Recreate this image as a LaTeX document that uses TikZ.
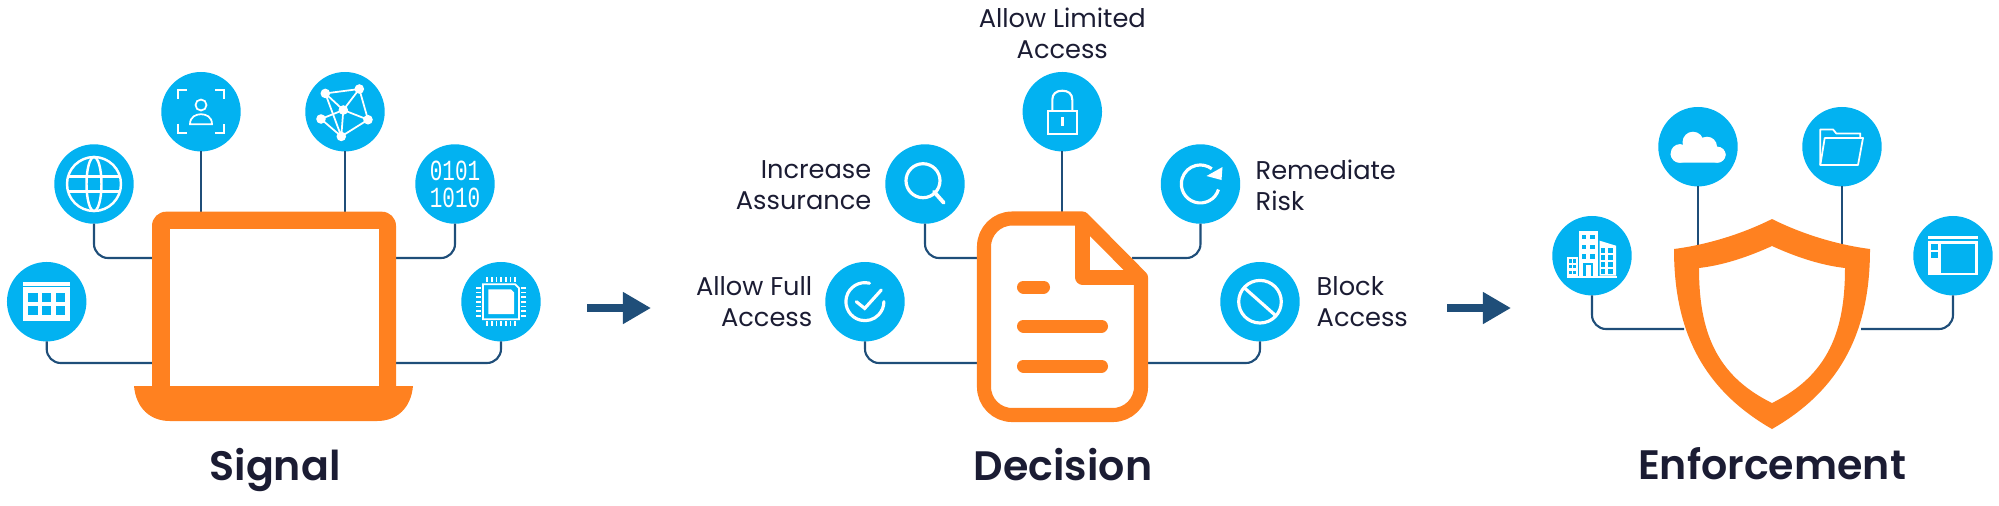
\documentclass[tikz,border=0pt]{standalone}
\usepackage{fontspec}
\setmainfont{Poppins}[BoldFont={Poppins SemiBold}]
\newfontfamily\digitfont{Liberation Mono}
\usetikzlibrary{arrows.meta}

\definecolor{badgeblue}{HTML}{02B2F1}
\definecolor{huborange}{HTML}{FF8120}
\definecolor{linknavy}{HTML}{1F4E79}
\definecolor{textdark}{HTML}{1B1C33}

\tikzset{
  badge/.style={circle, fill=badgeblue, minimum size=0.794cm, inner sep=0pt, outer sep=0pt},
  link/.style={draw=linknavy, line width=0.6pt, rounded corners=4pt},
  flow/.style={draw=linknavy, line width=2pt, -{Triangle[length=8pt, width=8.6pt]}},
  caption/.style={font=\fontsize{11.7}{14}\selectfont\bfseries, text=textdark, inner sep=0pt, anchor=base},
  choice/.style={font=\fontsize{7.3}{8.82}\selectfont, text=textdark, inner sep=0pt},
  digits/.style={text=white, font=\fontsize{8.3}{9}\selectfont\digitfont, xscale=0.72, inner sep=0pt},
  icon/.style={draw=white, line width=0.5pt},
  iconthick/.style={draw=white, line width=0.9pt, line cap=round},
  solidwhite/.style={fill=white},
  solidblue/.style={fill=badgeblue},
}

\begin{document}
\begin{tikzpicture}[x=0.01cm, y=-0.01cm]

\useasboundingbox (0,0) rectangle (1999,505);

% Signal badges
\node[badge] (table) at (46.7,301.7) {};
\node[badge] (globe) at (94,184) {};
\node[badge] (face) at (201,111.7) {};
\node[badge] (network) at (345,111.7) {};
\node[badge] (binary) at (455,184) {};
\node[badge] (chip) at (501,301.7) {};

% Where the lines meet the laptop
\coordinate (laptopA) at (152,363);
\coordinate (laptopB) at (152,258);
\coordinate (laptopC) at (201,213);
\coordinate (laptopD) at (345,213);
\coordinate (laptopE) at (396,258);
\coordinate (laptopF) at (396,363);

\draw[link] (table.south) |- (laptopA);
\draw[link] (globe.south) |- (laptopB);
\draw[link] (face.south) -- (laptopC);
\draw[link] (network.south) -- (laptopD);
\draw[link] (binary.south) |- (laptopE);
\draw[link] (chip.south) |- (laptopF);

% Draw the laptop
\fill[huborange, rounded corners=4pt] (152,400) -- (152,211.7) -- (396,211.7) -- (396,400) -- cycle;
\fill[white] (169.6,229.3) rectangle (378.6,386);
\fill[huborange] (134,386) -- (413,386) .. controls (411,408) and (397,421) .. (377,421) -- (170,421) .. controls (150,421) and (136,408) .. (134,386) -- cycle;
\node[caption] (signal) at (275,480) {Signal};

% Table icon
\begin{scope}[shift={(table.center)}]
\fill[solidwhite] (-23.3,-19.7) rectangle (23.7,-15.7);
\fill[solidwhite] (-23.3,-14.3) rectangle (23.7,19.3);
\foreach \cx in {-13.7,0,13.8} {
  \foreach \cy in {-4.4,8.7} {
    \fill[solidblue] (\cx-4.7,\cy-4.7) rectangle (\cx+4.7,\cy+4.7);
  }
}
\end{scope}

% Globe icon
\begin{scope}[shift={(globe.center)}]
\draw[icon, line width=0.7pt] (0,0) circle[radius=27];
\draw[icon, line width=0.7pt] (0,0) ellipse[x radius=7.5, y radius=27];
\draw[icon, line width=0.7pt] (-25,-7.3) -- (25,-7.3);
\draw[icon, line width=0.7pt] (-25,7.3) -- (25,7.3);
\end{scope}

% Face scan icon
\begin{scope}[shift={(face.center)}]
\draw[icon] (-23,-13) -- (-23,-22) -- (-14,-22);
\draw[icon] (14,-22) -- (23,-22) -- (23,-13);
\draw[icon] (-23,12) -- (-23,21) -- (-14,21);
\draw[icon] (14,21) -- (23,21) -- (23,12);
\draw[icon] (0,-6.7) circle[radius=5.5];
\draw[icon] (-11,12.5) .. controls (-11,5) and (-5,2.5) .. (0,2.5) .. controls (5,2.5) and (11,5) .. (11,12.5) -- cycle;
\end{scope}

% Network icon
\begin{scope}[shift={(network.center)}]
\coordinate (na) at (-19.7,-18.3);
\coordinate (nb) at (14.3,-22.7);
\coordinate (nc) at (-1.7,-1.7);
\coordinate (nd) at (-24,7.3);
\coordinate (ne) at (23,8);
\coordinate (nf) at (-3.7,24.7);
\draw[icon] (na) -- (nb) -- (ne) -- (nf) -- (nd) -- (nc) -- (ne);
\draw[icon] (nb) -- (nc) -- (na) -- (nf) -- (nc);
\foreach \n in {na,nb,nc,nd,ne,nf} {
  \fill[solidwhite] (\n) circle[radius=4.8];
}
\end{scope}

% Binary icon
\node[digits] (zeroone) at (455,170.5) {0101};
\node[digits] (onezero) at (455,197.5) {1010};

% Chip icon
\begin{scope}[shift={(chip.center)}]
\draw[icon] (-18,-17.5) -- (14,-17.5) -- (18,-13.5) -- (18,17.5) -- (-18,17.5) -- cycle;
\fill[solidwhite] (-12.7,-12.3) -- (10,-12.3) -- (13,-9.3) -- (13,12.3) -- (-12.7,12.3) -- cycle;
\foreach \p in {-14,-9.3,...,14.5} {
  \draw[icon] (\p,-24.5) -- (\p,-19.5);
  \draw[icon] (\p,24.5) -- (\p,19.5);
  \draw[icon] (-25,\p) -- (-20,\p);
  \draw[icon] (25,\p) -- (20,\p);
}
\end{scope}

\draw[flow] (587,308) coordinate (flowAstart) -- (651,308) coordinate (flowAend);

% Decision badges
\node[badge] (allowfull) at (865,301.7) {};
\node[badge] (increase) at (925,184) {};
\node[badge] (limited) at (1062.3,111.7) {};
\node[badge] (remediate) at (1200.5,184) {};
\node[badge] (blocked) at (1260,301.7) {};

% Where the lines meet the document
\coordinate (docA) at (977,363);
\coordinate (docB) at (977,258);
\coordinate (docC) at (1062.3,213);
\coordinate (docD) at (1132,258);
\coordinate (docE) at (1148,363);

\draw[link] (allowfull.south) |- (docA);
\draw[link] (increase.south) |- (docB);
\draw[link] (limited.south) -- (docC);
\draw[link] (remediate.south) |- (docD);
\draw[link] (blocked.south) |- (docE);

% Draw the document
\draw[huborange, line width=4pt, line join=round, fill=white] (1082.5,218.5) [rounded corners=8pt] -- (984,218.5) -- (984,415) -- (1141,415) [sharp corners] -- (1141,277.5) -- cycle;
\draw[huborange, line width=4pt, line join=round] (1082.5,218.5) -- (1082.5,277.5) -- (1141,277.5);
\draw[huborange, line width=3.7pt, line cap=round] (1023.5,287) -- (1043.5,287);
\draw[huborange, line width=3.7pt, line cap=round] (1023.5,326) -- (1101.5,326);
\draw[huborange, line width=3.7pt, line cap=round] (1023.5,366) -- (1101.5,366);
\node[caption] (decision) at (1063,480) {Decision};

% Labels of the choices
\node[choice, align=center] (limitedtext) at (1062.3,33) {Allow Limited\\Access};
\node[choice, align=right, anchor=east] (increasetext) at (872,185) {Increase\\Assurance};
\node[choice, align=left, anchor=west] (remediatetext) at (1255,185) {Remediate\\Risk};
\node[choice, align=right, anchor=east] (allowfulltext) at (813,302) {Allow Full\\Access};
\node[choice, align=left, anchor=west] (blockedtext) at (1316,302) {Block\\Access};

% Check icon
\begin{scope}[shift={(allowfull.center)}]
\draw[iconthick] (4.5,-18.5) arc[start angle=-76, delta angle=-284, radius=19];
\draw[iconthick] (-8.7,0) -- (-0.3,6.7) -- (16.3,-11.7);
\end{scope}

% Search icon
\begin{scope}[shift={(increase.center)}]
\draw[iconthick] (-2,-3.3) circle[radius=17];
\draw[iconthick, line width=1.1pt] (9,7.7) -- (18.7,18.7);
\end{scope}

% Lock icon
\begin{scope}[shift={(limited.center)}]
\draw[icon, line width=0.6pt] (-14.5,-1) rectangle (14.5,22.3);
\draw[icon, line width=0.6pt] (-10,-1) -- (-10,-12) .. controls (-10,-18) and (-6,-21) .. (0,-21) .. controls (6,-21) and (10,-18) .. (10,-12) -- (10,-1);
\draw[icon, line width=0.7pt] (0,5.7) -- (0,14.3);
\end{scope}

% Refresh icon
\begin{scope}[shift={(remediate.center)}]
\draw[iconthick, line cap=butt] (18,5.5) arc[start angle=17, delta angle=290, radius=19];
\fill[solidwhite] (6,-8) -- (22,-17) -- (21,-4) -- cycle;
\end{scope}

% Block icon
\begin{scope}[shift={(blocked.center)}]
\draw[iconthick] (0,0) circle[radius=21.3];
\draw[iconthick, line cap=butt] (-15,-13.3) -- (15,13.3);
\end{scope}

\draw[flow] (1447,308) coordinate (flowBstart) -- (1511,308) coordinate (flowBend);

% Enforcement badges
\node[badge] (building) at (1592,255.7) {};
\node[badge] (cloud) at (1698,146.7) {};
\node[badge] (folder) at (1842,146.7) {};
\node[badge] (window) at (1953,255.7) {};

% Where the lines meet the shield
\coordinate (shieldA) at (1684,329);
\coordinate (shieldB) at (1698,246);
\coordinate (shieldC) at (1842,246);
\coordinate (shieldD) at (1861,329);

\draw[link] (building.south) |- (shieldA);
\draw[link] (cloud.south) -- (shieldB);
\draw[link] (folder.south) -- (shieldC);
\draw[link] (window.south) |- (shieldD);

% Draw the shield
\fill[huborange, even odd rule]
  (1772,219) .. controls (1740,235) and (1705,245) .. (1674,249)
  .. controls (1674,320) and (1695,385) .. (1772,429)
  .. controls (1849,385) and (1870,320) .. (1870,249)
  .. controls (1839,245) and (1804,235) .. (1772,219) -- cycle
  (1772,246) .. controls (1750,256) and (1725,265) .. (1699,268)
  .. controls (1699,330) and (1715,375) .. (1772,403)
  .. controls (1829,375) and (1845,330) .. (1845,268)
  .. controls (1819,265) and (1794,256) .. (1772,246) -- cycle;
\node[caption] (enforcement) at (1772,479) {Enforcement};

% Building icon
\begin{scope}[shift={(building.center)}]
\fill[solidwhite] (-25,20) rectangle (25,22);
\fill[solidwhite] (-13.3,-24.3) rectangle (6,20);
\fill[solidwhite] (7.7,-15) -- (24,-10) -- (24,20) -- (7.7,20) -- cycle;
\fill[solidwhite] (-25,1.7) rectangle (-14.3,20);
\foreach \wy in {-20.7,-11,-1.3} {
  \fill[solidblue] (-10,\wy) rectangle (-6,\wy+4.4);
  \fill[solidblue] (-1.7,\wy) rectangle (2.7,\wy+4.4);
}
\fill[solidblue] (-8.7,7) rectangle (0.7,20);
\fill[solidwhite] (-6.5,9.5) rectangle (-1.5,20);
\foreach \wy in {-7.3,-0.7,6,13.3} {
  \fill[solidblue] (9.3,\wy) rectangle (13.3,\wy+5);
  \fill[solidblue] (16,\wy) rectangle (20.7,\wy+5);
}
\foreach \wy in {3.7,9.3,15} {
  \fill[solidblue] (-23,\wy) rectangle (-20,\wy+3.3);
  \fill[solidblue] (-19,\wy) rectangle (-16,\wy+3.3);
}
\end{scope}

% Cloud icon
\begin{scope}[shift={(cloud.center)}]
\fill[solidwhite, rounded corners=2.5pt] (-27.3,0) rectangle (27.7,16);
\fill[solidwhite] (-18,6.7) circle[radius=9.3];
\fill[solidwhite] (-5,-4.5) circle[radius=10.5];
\fill[solidwhite] (9,0) circle[radius=10];
\fill[solidwhite] (19.5,8) circle[radius=8];
\end{scope}

% Folder icon
\begin{scope}[shift={(folder.center)}]
\draw[icon, line join=round] (-21.7,18.3) -- (-21.7,-17.3) -- (-9,-17.3) -- (-5.7,-13.3) -- (18.3,-13.3) -- (18.3,-9);
\draw[icon, line join=round] (-17.3,-8.7) -- (21,-8.7) -- (16,18.3) -- (-21.7,18.3) -- cycle;
\end{scope}

% Window icon
\begin{scope}[shift={(window.center)}]
\fill[solidwhite] (-25,-19.7) rectangle (25,-16.7);
\fill[solidwhite] (-25,-14.3) rectangle (25,19.3);
\fill[solidblue] (-12.3,-11.7) rectangle (22.3,17.3);
\fill[solidblue] (-22,-11.7) rectangle (-15,-6);
\fill[solidblue] (-22,-3.7) rectangle (-15,2);
\end{scope}

\end{tikzpicture}
\end{document}
